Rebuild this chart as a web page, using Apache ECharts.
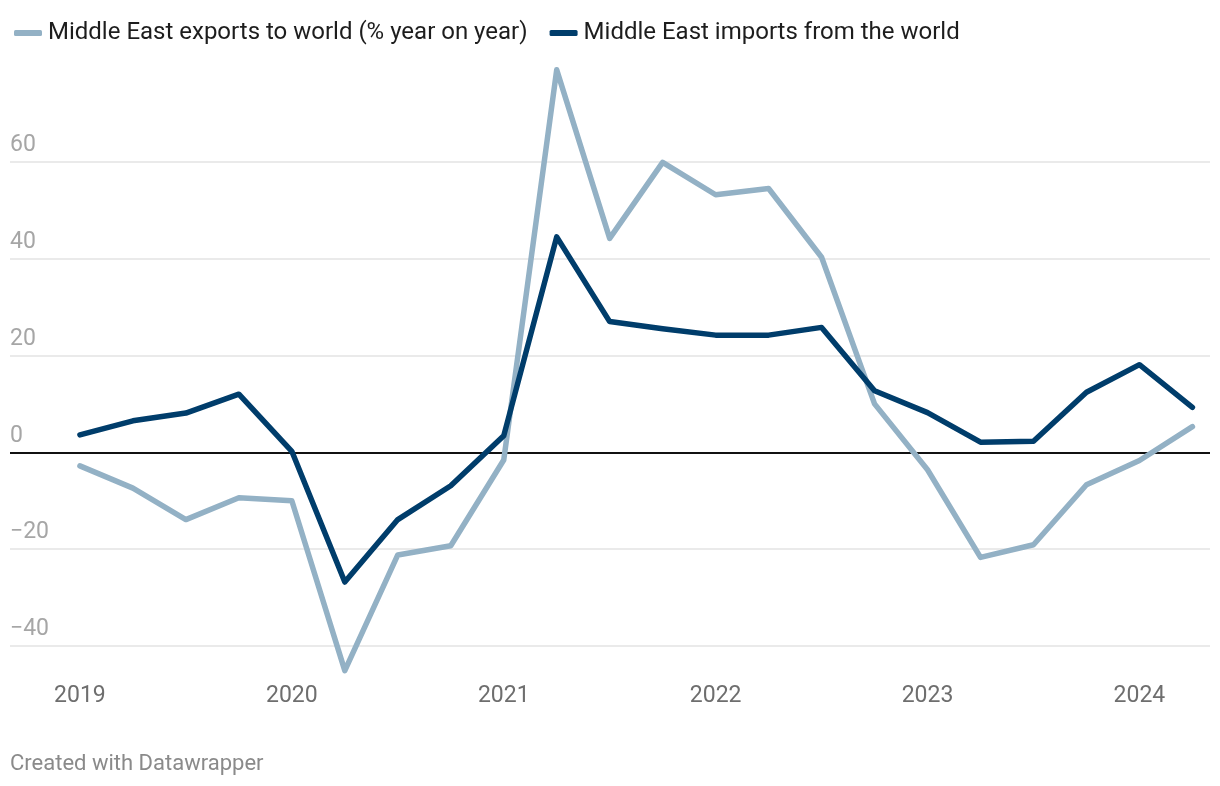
<!DOCTYPE html>
<html>
<head>
<meta charset="utf-8">
<script src="https://cdn.jsdelivr.net/npm/echarts@6/dist/echarts.min.js"></script>
<style>
html,body{margin:0;padding:0;background:#fff;}
#chart{width:1220px;height:786px;}
</style>
</head>
<body>
<div id="chart"></div>
<script>
const quarters = ['2019Q1','2019Q2','2019Q3','2019Q4','2020Q1','2020Q2','2020Q3','2020Q4',
  '2021Q1','2021Q2','2021Q3','2021Q4','2022Q1','2022Q2','2022Q3','2022Q4',
  '2023Q1','2023Q2','2023Q3','2023Q4','2024Q1','2024Q2'];
const exportsYoY = [-2.8,-7.4,-13.9,-9.4,-10.0,-45.1,-21.2,-19.3,
  -1.6,79.0,44.2,59.9,53.2,54.5,40.3,10.0,
  -3.6,-21.7,-19.1,-6.7,-1.7,5.3];
const importsYoY = [3.6,6.5,8.1,12.0,0.2,-26.8,-13.9,-6.9,
  3.4,44.5,27.0,25.5,24.2,24.2,25.8,12.7,
  8.2,2.1,2.3,12.4,18.1,9.3];
const yearTicks = [2019,2020,2021,2022,2023,2024];
const yTicks = [-40,-20,0,20,40,60];
const gridValues = [-40,-20,20,40,60];
const seriesNames = ['Middle East exports to world (% year on year)','Middle East imports from the world'];

function qToNum(q){ return parseInt(q.slice(0,4),10) + (parseInt(q.slice(5),10)-1)/4; }
const expData = quarters.map((q,i)=>[qToNum(q), exportsYoY[i]]);
const impData = quarters.map((q,i)=>[qToNum(q), importsYoY[i]]);

const chart = echarts.init(document.getElementById('chart'), null, {renderer:'canvas'});
const font = 'Roboto, "Noto Sans", sans-serif';
chart.setOption({
  animation:false,
  backgroundColor:'#ffffff',
  textStyle:{fontFamily:font},
  legend:{
    left:9, top:16, itemWidth:28, itemHeight:6, itemGap:22,
    icon:'roundRect',
    textStyle:{fontSize:24, color:'#1d1d1d', fontFamily:font, padding:[0,0,0,1]},
    data:[
      {name:seriesNames[0], itemStyle:{color:'#93b1c5'}},
      {name:seriesNames[1], itemStyle:{color:'#003d6b'}}
    ]
  },
  grid:{left:10, right:10, top:65, bottom:111, containLabel:false},
  xAxis:{
    type:'value', min:2018.67, max:2024.333,
    axisLine:{show:false}, axisTick:{show:false}, splitLine:{show:false},
    axisLabel:{customValues:yearTicks, fontSize:23, color:'#6e6e6e', margin:10, fontFamily:font,
      formatter:v=>String(Math.round(v))}
  },
  yAxis:{
    type:'value', min:-46, max:80,
    axisLine:{show:false}, axisTick:{show:false}, splitLine:{show:false},
    axisLabel:{customValues:yTicks, inside:true, verticalAlign:'bottom', fontSize:23, color:'#a6a6a6',
      margin:0, padding:[0,0,5,0], fontFamily:font,
      formatter:v=>String(v).replace('-','\u2212')}
  },
  series:[
    {
      name:seriesNames[0], type:'line', data:expData, showSymbol:false, symbol:'none',
      lineStyle:{width:5.5, color:'#93b1c5', cap:'round', join:'round'},
      itemStyle:{color:'#93b1c5'}, z:3,
      markLine:{
        silent:true, symbol:'none', label:{show:false}, z:1,
        lineStyle:{color:'#e3e3e3', width:1.5, type:'solid'},
        data: gridValues.map(v=>({yAxis:v}))
      }
    },
    {
      name:seriesNames[1], type:'line', data:impData, showSymbol:false, symbol:'none',
      lineStyle:{width:5.5, color:'#003d6b', cap:'round', join:'round'},
      itemStyle:{color:'#003d6b'}, z:4,
      markLine:{
        silent:true, symbol:'none', label:{show:false}, z:2,
        lineStyle:{color:'#111111', width:2, type:'solid'},
        data:[{yAxis:0}]
      }
    }
  ],
  graphic:[
    {type:'text', left:10, top:753, style:{text:'Created with Datawrapper', fontSize:22, fill:'#8a8a8a', fontFamily:font}}
  ]
});
</script>
</body>
</html>
